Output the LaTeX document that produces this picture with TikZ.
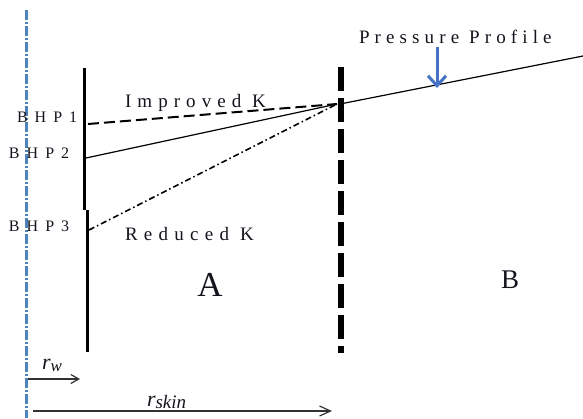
\documentclass[tikz,border=0pt]{standalone}
\usepackage{fontspec}
\setmainfont{Liberation Serif}
\newfontfamily\lsK[LetterSpace=32]{Liberation Serif}
\newfontfamily\lsR[LetterSpace=33]{Liberation Serif}
\newfontfamily\lsP[LetterSpace=27]{Liberation Serif}
\newfontfamily\lsB[LetterSpace=44]{Liberation Serif}
\usetikzlibrary{arrows.meta}
\definecolor{axisblue}{RGB}{79,129,189}
\definecolor{arrowblue}{RGB}{68,114,196}
\definecolor{txt}{RGB}{20,20,30}
\definecolor{rarrow}{RGB}{50,50,50}
\begin{document}
\begin{tikzpicture}[x=1pt,y=-1pt,
  lbl/.style={inner sep=0pt, outer sep=0pt, text=txt},
  wellline/.style={line width=3pt, black},
  skinline/.style={line width=6.5pt, black, dash pattern=on 24pt off 7pt},
  profline/.style={line width=1.2pt, black},
  improvedline/.style={line width=2pt, black, dash pattern=on 11pt off 5pt},
  reducedline/.style={line width=1.6pt, black, dash pattern=on 6pt off 3pt on 1.5pt off 3pt},
  axisline/.style={line width=3pt, axisblue, dash pattern=on 10pt off 2pt on 2pt off 2pt},
  rarr/.style={line width=1.2pt, rarrow},
]
\useasboundingbox (0,0) rectangle (583,418);
% axis of the well
\coordinate (ax1) at (26,10);
\coordinate (ax2) at (26,418);
\draw[axisline] (ax1) -- (ax2);
% wellbore wall
\coordinate (w1) at (84,68);
\coordinate (w2) at (84,210);
\coordinate (w3) at (87,210);
\coordinate (w4) at (87,352);
\draw[wellline] (w1) -- (w2);
\draw[wellline] (w3) -- (w4);
% skin boundary
\coordinate (s1) at (341,67);
\coordinate (s2) at (341,353);
\draw[skinline] (s1) -- (s2);
% pressure lines
\coordinate (cv) at (337,104);
\coordinate (i0) at (88,124);
\coordinate (b2) at (86,158);
\coordinate (b3) at (89,230);
\coordinate (pp0) at (340,104);
\coordinate (pp1) at (583,56);
\draw[improvedline] (i0) -- (cv);
\draw[profline] (b2) -- (cv);
\draw[reducedline] (b3) -- (cv);
\draw[profline] (pp0) -- (pp1);
% blue arrow
\coordinate (ba0) at (437,47);
\coordinate (ba1) at (437,88);
\draw[arrowblue, line width=3pt, -{Straight Barb[length=10pt,width=18pt]}] (ba0) -- (ba1);
% labels
\node[lbl, anchor=base west, font=\lsP\fontsize{19}{19}\selectfont] (tp) at (359,43) {Pressure Profile};
\node[lbl, anchor=base west, font=\lsK\fontsize{19}{19}\selectfont] (ti) at (125,107) {Improved K};
\node[lbl, anchor=base west, font=\lsR\fontsize{19}{19}\selectfont] (tr) at (125,240) {Reduced K};
\node[lbl, anchor=base west, font=\lsB\fontsize{16}{16}\selectfont] (t1) at (17,122) {BHP1};
\node[lbl, anchor=base west, font=\lsB\fontsize{16}{16}\selectfont] (t2) at (9,158) {BHP2};
\node[lbl, anchor=base west, font=\lsB\fontsize{16}{16}\selectfont] (t3) at (9,231) {BHP3};
\node[lbl, anchor=base, font=\fontsize{35}{35}\selectfont] (tA) at (210,296) {A};
\node[lbl, anchor=base, font=\fontsize{27}{27}\selectfont] (tB) at (510,288) {B};
\node[lbl, anchor=base west, font=\itshape\fontsize{22}{22}\selectfont] (trw) at (42,369) {r\raisebox{-2pt}{\fontsize{17}{17}\selectfont w}};
\node[lbl, anchor=base west, font=\itshape\fontsize{22}{22}\selectfont] (trs) at (147,406) {r\raisebox{-2pt}{\fontsize{19}{19}\selectfont skin}};
% radius arrows
\coordinate (rw0) at (28,379);
\coordinate (rw1) at (80,379);
\coordinate (rs0) at (33,411);
\coordinate (rs1) at (332,411);
\draw[rarr, -{Straight Barb[length=8pt,width=9pt]}] (rw0) -- (rw1);
\draw[rarr, -{Straight Barb[length=11pt,width=10pt]}] (rs0) -- (rs1);
\end{tikzpicture}
\end{document}
